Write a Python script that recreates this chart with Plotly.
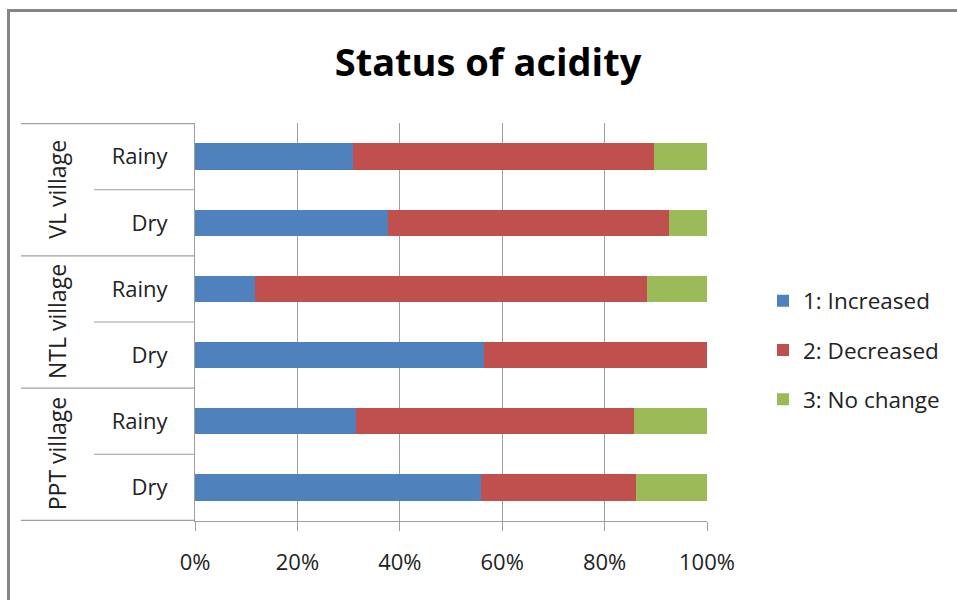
import plotly.graph_objects as go

# Survey results: share of respondents (%) per village and season
villages = ["VL village", "VL village", "NTL village", "NTL village", "PPT village", "PPT village"]
seasons = ["Rainy", "Dry", "Rainy", "Dry", "Rainy", "Dry"]
increased = [30.9, 37.6, 11.8, 56.5, 31.4, 55.8]
decreased = [58.8, 54.9, 76.4, 43.5, 54.3, 30.4]
no_change = [10.3, 7.5, 11.8, 0.0, 14.3, 13.8]

series_names = ["1: Increased", "2: Decreased", "3: No change"]
series_colors = ["#4F81BD", "#C0504D", "#9BBB59"]
x_ticks = [0, 20, 40, 60, 80, 100]

W, H = 957, 600
L, R, T, B = 195, 707, 123, 521  # plot area in pixels
FONT = "Open Sans"


def px_x(px):
    return (px - L) / (R - L)


def px_y(py):
    return (B - py) / (B - T)


cats = [f"{v}|{s}" for v, s in zip(villages, seasons)]

fig = go.Figure()
for name, vals, col in zip(series_names, [increased, decreased, no_change], series_colors):
    fig.add_trace(go.Bar(
        y=cats, x=vals, name=name, orientation="h",
        marker=dict(color=col, line=dict(width=0)),
        legendgroup=name, hoverinfo="x+name",
    ))

grid = "#A0A0A0"
fig.update_layout(
    width=W, height=H,
    margin=dict(l=L, r=W - R, t=T, b=H - B),
    paper_bgcolor="white", plot_bgcolor="white",
    barmode="stack", bargap=0.6,
    font=dict(family=FONT, size=22, color="#222222"),
    title=dict(text="<b>Status of acidity</b>", x=488 / W, xanchor="center",
               y=1 - 63 / H, yanchor="middle",
               font=dict(family=FONT, size=38, color="#000000")),
    xaxis=dict(range=[0, 100], tickvals=x_ticks, ticktext=[f"{t}%" for t in x_ticks],
               showgrid=True, gridcolor=grid, gridwidth=1,
               showline=True, linecolor=grid, linewidth=1,
               ticks="outside", ticklen=9, tickcolor=grid,
               ticklabelstandoff=13, zeroline=False,
               tickfont=dict(size=22, color="#222222")),
    yaxis=dict(type="category", categoryorder="array", categoryarray=cats,
               autorange="reversed", tickvals=cats, ticktext=seasons,
               showgrid=False, showline=True, linecolor=grid, linewidth=1,
               ticks="", ticklabelstandoff=22,
               tickfont=dict(size=22, color="#222222")),
    legend=dict(x=px_x(763), xanchor="left", y=px_y(350), yanchor="middle",
                font=dict(size=22.5, color="#222222"), tracegroupgap=17,
                bgcolor="rgba(0,0,0,0)", itemclick=False),
    showlegend=True,
)

# Category dividers of the two-level axis
shapes = []
n = len(cats)
group_edges = [-0.5]
for i in range(1, n):
    if villages[i] != villages[i - 1]:
        group_edges.append(i - 0.5)
group_edges.append(n - 0.5)
for e in group_edges:
    shapes.append(dict(type="line", xref="paper", yref="y", x0=px_x(21), x1=0,
                       y0=e, y1=e, line=dict(color=grid, width=1.2)))
for i in range(1, n):
    if villages[i] == villages[i - 1]:
        shapes.append(dict(type="line", xref="paper", yref="y", x0=px_x(94), x1=0,
                           y0=i - 0.5, y1=i - 0.5, line=dict(color=grid, width=1.2)))

# Chart frame (top and left edges)
frame = "#858585"
shapes.append(dict(type="line", xref="paper", yref="paper", x0=px_x(7), x1=px_x(960),
                   y0=px_y(10.5), y1=px_y(10.5), line=dict(color=frame, width=3)))
shapes.append(dict(type="line", xref="paper", yref="paper", x0=px_x(8.5), x1=px_x(8.5),
                   y0=px_y(9), y1=px_y(605), line=dict(color=frame, width=3)))
fig.update_layout(shapes=shapes)

# Rotated village labels
for k in range(len(group_edges) - 1):
    lo, hi = group_edges[k], group_edges[k + 1]
    label = villages[int(lo + 0.5)]
    fig.add_annotation(text=label, xref="paper", yref="y", x=px_x(57), y=(lo + hi) / 2,
                       textangle=-90, showarrow=False, xanchor="center", yanchor="middle",
                       font=dict(family=FONT, size=23, color="#222222"))

fig.write_html("out.html")
